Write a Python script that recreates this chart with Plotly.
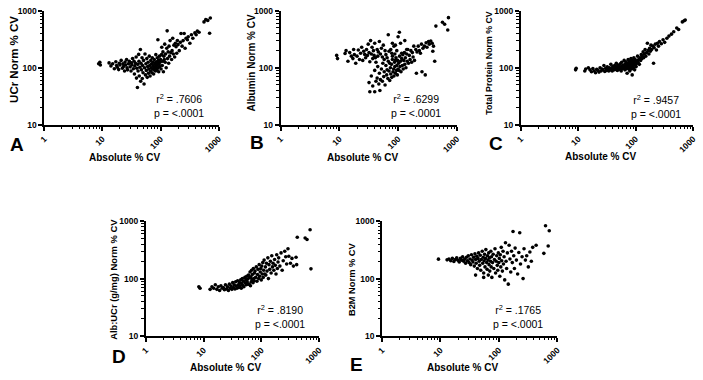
import plotly.graph_objects as go

W, H = 703, 380

# ---------------- data ----------------
a_x = [8.6, 9.0, 9.2, 13, 14, 15, 16, 17, 17.5, 18, 19, 19.5, 20, 21, 22, 22.5, 23, 24, 24.5, 25, 26, 26.5, 27, 28, 29, 30, 31, 31.5, 32, 33, 34, 35, 35.5, 36, 37, 38, 38.5, 39, 40, 40.5, 41, 42, 42.5, 43, 44, 45, 45.5, 46, 47, 48, 48.5, 49, 50, 51, 52, 53, 54, 55, 56, 57, 58, 59, 60, 61, 62, 63, 64, 65, 66, 67, 68, 69, 70, 71, 72, 73, 74, 75, 76, 77, 78, 79, 80, 82, 83, 84, 85, 86, 87, 88, 89, 90, 91, 92, 93, 94, 96, 97, 98, 100, 102, 104, 105, 107, 109, 110, 112, 114, 116, 118, 120, 122, 125, 128, 130, 132, 135, 138, 140, 143, 146, 150, 155, 158, 162, 166, 170, 175, 180, 185, 190, 195, 200, 210, 220, 225, 235, 245, 255, 265, 275, 290, 300, 320, 340, 360, 390, 410, 430, 460, 560, 600, 650, 720, 700]
a_y = [118, 125, 112, 122, 108, 118, 96, 128, 110, 102, 93, 120, 112, 135, 98, 118, 105, 88, 126, 112, 140, 100, 92, 118, 130, 104, 88, 122, 112, 145, 96, 130, 78, 108, 120, 155, 66, 98, 45, 115, 88, 172, 130, 72, 102, 210, 58, 120, 92, 150, 65, 110, 82, 135, 52, 100, 175, 75, 118, 90, 145, 68, 105, 125, 80, 95, 160, 110, 72, 88, 135, 100, 118, 82, 150, 95, 108, 125, 78, 92, 140, 102, 115, 88, 170, 98, 128, 110, 92, 150, 120, 310, 100, 135, 85, 115, 160, 105, 125, 140, 95, 170, 230, 110, 130, 190, 85, 160, 140, 260, 125, 175, 100, 220, 445, 145, 190, 120, 240, 160, 300, 185, 140, 200, 330, 175, 250, 155, 270, 235, 180, 300, 255, 200, 280, 400, 240, 300, 400, 220, 330, 310, 350, 270, 380, 330, 410, 380, 440, 420, 640, 700, 680, 750, 405]

b_x = [9, 9.3, 12.5, 13, 14, 15, 16, 17, 17.5, 18, 19, 20, 21, 22, 23, 24, 25, 26, 27, 28, 29, 30, 31, 32, 33, 34, 35, 36, 37, 38, 39, 40, 41, 42, 44, 45, 46, 48, 50, 52, 54, 56, 58, 60, 62, 65, 68, 70, 72, 75, 78, 80, 85, 88, 90, 95, 100, 105, 110, 33, 40, 49, 32, 35, 37, 40, 42, 44, 45, 47, 48, 50, 52, 54, 55, 57, 58, 60, 62, 64, 65, 67, 68, 70, 72, 74, 75, 77, 78, 80, 82, 84, 85, 87, 88, 90, 92, 94, 95, 97, 98, 100, 102, 104, 106, 108, 110, 112, 115, 118, 120, 122, 125, 128, 130, 133, 136, 140, 143, 146, 150, 155, 160, 165, 170, 175, 180, 185, 190, 200, 205, 210, 220, 230, 240, 250, 255, 265, 280, 290, 300, 310, 330, 340, 360, 380, 390, 400, 420, 440, 570, 620, 720, 700, 80, 90, 115, 130, 140]
b_y = [165, 145, 178, 200, 130, 185, 160, 145, 210, 170, 120, 160, 205, 140, 180, 230, 135, 195, 172, 150, 210, 165, 260, 185, 128, 300, 175, 230, 145, 200, 165, 270, 150, 125, 210, 160, 190, 290, 175, 220, 155, 250, 140, 200, 170, 150, 380, 195, 120, 210, 180, 160, 240, 175, 135, 200, 350, 420, 270, 38, 38, 40, 55, 72, 48, 90, 58, 66, 105, 52, 80, 62, 95, 58, 120, 70, 85, 50, 110, 75, 92, 65, 130, 88, 60, 100, 78, 115, 68, 140, 85, 95, 72, 125, 105, 80, 150, 90, 110, 75, 135, 95, 120, 90, 160, 105, 130, 85, 145, 110, 170, 95, 135, 185, 115, 150, 100, 175, 130, 210, 120, 165, 140, 200, 125, 185, 155, 240, 135, 210, 80, 190, 240, 200, 180, 260, 85, 220, 240, 75, 275, 230, 290, 260, 295, 270, 195, 240, 130, 540, 630, 580, 760, 460, 270, 250, 180, 300, 210]

c_x = [9, 9.2, 13, 13.5, 15, 16, 17, 18, 19, 20, 21, 22, 23, 24, 25, 26, 27, 28, 29, 30, 31, 32, 33, 34, 35, 36, 37, 38, 39, 40, 41, 42, 43, 44, 45, 46, 47, 48, 49, 50, 52, 53, 54, 55, 56, 57, 58, 59, 60, 62, 63, 64, 65, 66, 67, 68, 69, 70, 71, 72, 73, 74, 75, 76, 77, 78, 79, 80, 81, 82, 83, 84, 85, 86, 87, 88, 89, 90, 92, 93, 94, 95, 96, 98, 100, 102, 104, 106, 108, 110, 113, 116, 119, 122, 125, 128, 131, 135, 138, 142, 146, 150, 155, 160, 165, 170, 175, 180, 185, 190, 200, 205, 210, 220, 230, 240, 250, 260, 280, 300, 320, 350, 380, 420, 460, 520, 560, 650, 700, 730]
c_y = [92, 98, 88, 95, 100, 92, 85, 97, 88, 82, 94, 90, 84, 100, 88, 95, 92, 110, 86, 98, 90, 104, 95, 88, 100, 92, 115, 96, 88, 105, 98, 92, 110, 100, 94, 120, 104, 90, 112, 98, 108, 94, 118, 100, 88, 125, 105, 96, 112, 100, 135, 108, 92, 118, 104, 128, 96, 110, 80, 120, 102, 140, 112, 95, 125, 106, 88, 130, 115, 100, 145, 110, 95, 122, 75, 135, 108, 118, 100, 150, 112, 128, 92, 140, 118, 105, 132, 120, 160, 125, 140, 115, 150, 135, 170, 145, 160, 190, 150, 175, 210, 160, 185, 270, 200, 175, 220, 195, 250, 210, 240, 120, 225, 260, 205, 270, 240, 290, 265, 310, 280, 330, 360, 390, 430, 500, 470, 640, 670, 690]

d_x = [8.3, 8.7, 13, 14, 15, 16, 17, 18, 19, 20, 21, 22, 23, 24, 25, 26, 27, 28, 29, 30, 31, 32, 33, 34, 35, 36, 37, 38, 39, 40, 41, 42, 43, 44, 45, 46, 47, 48, 49, 50, 52, 53, 54, 55, 56, 57, 58, 59, 60, 62, 63, 64, 65, 66, 67, 68, 69, 70, 72, 73, 74, 75, 76, 78, 80, 82, 84, 86, 88, 90, 92, 94, 96, 98, 100, 102, 104, 106, 108, 110, 112, 115, 118, 120, 123, 126, 130, 133, 136, 140, 144, 148, 152, 156, 160, 165, 170, 175, 180, 185, 190, 195, 200, 210, 220, 230, 240, 255, 265, 275, 290, 300, 320, 340, 360, 400, 410, 420, 575, 620, 700, 725]
d_y = [72, 68, 65, 72, 68, 78, 65, 72, 62, 75, 68, 70, 64, 78, 66, 72, 62, 80, 68, 74, 65, 85, 70, 78, 66, 88, 74, 68, 92, 78, 70, 85, 75, 95, 68, 82, 100, 76, 90, 72, 105, 84, 95, 78, 110, 88, 98, 80,
       115, 80, 104, 130, 75, 108, 88, 140, 96, 118, 85, 150, 100, 92, 125, 135, 105, 160, 90, 118, 145, 100, 175, 110, 130, 150, 95, 165, 120, 190, 105, 140, 210, 120, 160, 115, 185, 135, 230, 100, 175, 145, 200, 125, 250, 160, 185, 140, 215, 170, 120, 260, 150, 195, 230, 165, 280, 140, 205, 300, 240, 180, 330, 245, 185, 225, 165, 235, 175,
       525, 510, 480, 710, 148]

e_x = [9.25, 13, 14, 15, 16, 17, 18, 19, 20, 21, 22, 23, 24, 25, 26, 27, 28, 29, 30, 31, 32, 33, 34, 35, 36, 37, 38, 39, 40, 41, 42, 43, 44, 45, 46, 47, 48, 49, 50, 52, 53, 54, 55, 56, 57, 58, 59, 60, 62, 63, 64, 65, 66, 67, 68, 69, 70, 72, 73, 74, 75, 76, 78, 80, 82, 84, 86, 88, 90, 92, 94, 96, 98, 100, 102, 104, 106, 108, 110, 112, 115, 118, 120, 123, 126, 130, 133, 136, 140, 145, 150, 155, 160, 165, 170, 175, 180, 185, 190, 200, 210, 220, 228, 235, 250, 260, 270, 285, 300, 320, 340, 360, 380, 435, 590, 630, 700, 730, 40, 55]
e_y = [218, 212, 220, 205, 225, 198, 215, 230, 208, 195, 225, 210, 240, 200, 218, 185, 235, 205, 250, 190, 220, 175, 260, 210, 195, 235, 165, 270, 215, 185, 245, 150, 225, 280, 200, 170, 255, 140, 215, 300, 185, 235, 125, 205, 265, 160, 225, 320, 190, 145, 250, 210, 115, 280, 175, 230, 135, 200, 300, 160, 240, 105, 190, 265, 150, 215, 330, 125, 200, 250, 170, 140, 280, 190, 225, 110, 260, 160, 350, 205, 135, 300, 180, 240, 95, 420, 200, 150, 280, 80, 380, 220, 130, 300, 190, 660, 250, 150, 340, 210, 120, 285, 630, 180, 240, 100, 330, 210, 250, 160, 290, 200, 350, 380, 275, 830, 370, 680, 115, 105]

panels = [
    dict(letter="A", x=a_x, y=a_y, ytitle="UCr Norm % CV", r2=".7606"),
    dict(letter="B", x=b_x, y=b_y, ytitle="Albumin Norm % CV", r2=".6299"),
    dict(letter="C", x=c_x, y=c_y, ytitle="Total Protein Norm % CV", r2=".9457"),
    dict(letter="D", x=d_x, y=d_y, ytitle="Alb:UCr (g/mg) Norm % CV", r2=".8190"),
    dict(letter="E", x=e_x, y=e_y, ytitle="B2M Norm % CV", r2=".1765"),
]
x_ticks = [1, 10, 100, 1000]
y_ticks = [10, 100, 1000]

# ---------------- layout geometry (pixels) ----------------
boxes = [  # left, right, top, bottom
    (39, 216, 6, 123),
    (279, 458, 6, 123),
    (523, 698, 6, 123),
    (142, 318, 222, 340),
    (382, 560, 222, 340),
]
ytitle_pos = [(7.5, 56, 11.5), (249, 59, 10), (491, 59, 8.8), (109, 282, 9.4), (351, 282, 9.3)]
xtitle_pos = [(120, 157), (362, 157), (604, 156), (222.5, 372), (464, 372)]
letter_pos = [(11.5, 143.5), (254.5, 141.5), (497.5, 142.5), (114.5, 361.5), (356.5, 369)]
stat_pos = [(202, 103.5), (443, 103.3), (687, 103.8), (305, 320), (547, 320)]

px = lambda v: v / W
py = lambda v: 1 - v / H

FONT = "Liberation Sans"
minor_x = [m * 10 ** k for k in range(0, 3) for m in range(2, 10)]
minor_y = [m * 10 ** k for k in range(1, 3) for m in range(2, 10)]

fig = go.Figure()
annotations = []
for i, (p, (l, r, t, b)) in enumerate(zip(panels, boxes)):
    n = "" if i == 0 else str(i + 1)
    fig.add_trace(go.Scatter(
        x=p["x"], y=p["y"], mode="markers", xaxis="x" + n, yaxis="y" + n,
        marker=dict(color="black", size=3.6), showlegend=False, hoverinfo="x+y"))
    common = dict(type="log", showgrid=False, zeroline=False, showline=True,
                  linecolor="black", linewidth=1.8, ticks="outside", ticklen=4,
                  tickwidth=1.5, tickcolor="black",
                  tickfont=dict(family=FONT, size=8.5, color="black", weight="bold"))
    fig.layout["xaxis" + n] = dict(
        common, domain=[px(l), px(r)], range=[0, 3], anchor="y" + n,
        tickmode="array", tickvals=x_ticks, ticktext=[str(v) for v in x_ticks],
        tickangle=-45,
        minor=dict(tickmode="array", tickvals=minor_x, ticks="outside", ticklen=2.5,
                   tickwidth=1, tickcolor="black", showgrid=False))
    fig.layout["yaxis" + n] = dict(
        common, domain=[py(b), py(t)], range=[1, 3], anchor="x" + n,
        tickmode="array", tickvals=y_ticks, ticktext=[str(v) for v in y_ticks],
        minor=dict(tickmode="array", tickvals=minor_y, ticks="outside", ticklen=2.5,
                   tickwidth=1, tickcolor="black", showgrid=False))
    tx, ty, ts = ytitle_pos[i]
    annotations.append(dict(text=p["ytitle"], x=px(tx), y=py(ty), xref="paper", yref="paper",
                            textangle=-90, showarrow=False, xanchor="center", yanchor="middle",
                            font=dict(family=FONT, size=ts, color="black", weight="bold")))
    xx, xy = xtitle_pos[i]
    annotations.append(dict(text="Absolute % CV", x=px(xx), y=py(xy), xref="paper", yref="paper",
                            showarrow=False, xanchor="center", yanchor="middle",
                            font=dict(family=FONT, size=10, color="black", weight="bold")))
    lx, ly = letter_pos[i]
    annotations.append(dict(text=p["letter"], x=px(lx), y=py(ly), xref="paper", yref="paper",
                            showarrow=False, xanchor="center", yanchor="middle",
                            font=dict(family=FONT, size=19, color="black", weight="bold")))
    sx, sy = stat_pos[i]
    annotations.append(dict(text="r<sup>2</sup> = " + p["r2"] + "<br>p = <.0001",
                            x=px(sx), y=py(sy), xref="paper", yref="paper",
                            showarrow=False, xanchor="right", yanchor="middle", align="center",
                            borderpad=0,
                            font=dict(family=FONT, size=10.5, color="black")))

fig.update_layout(width=W, height=H, margin=dict(l=0, r=0, t=0, b=0),
                  paper_bgcolor="white", plot_bgcolor="white",
                  annotations=annotations, showlegend=False)
fig.write_html("out.html", config={"displayModeBar": False},
               post_script="document.body.style.margin='0';document.body.style.overflow='hidden';")
